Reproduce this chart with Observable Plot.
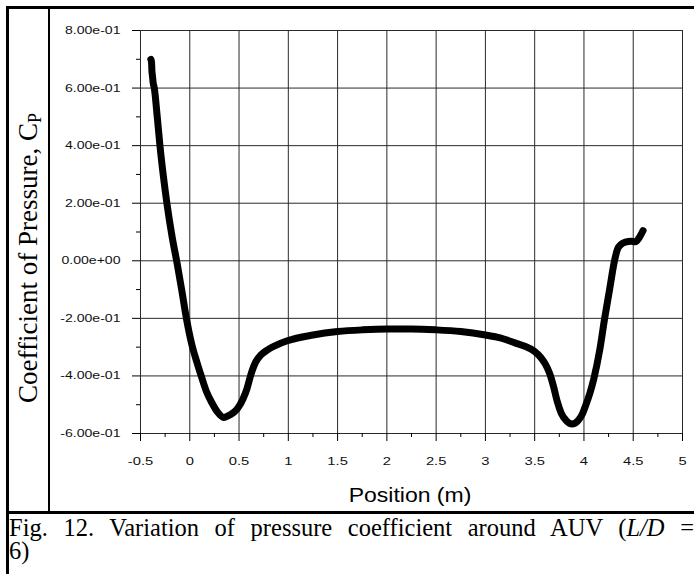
<!DOCTYPE html>
<html>
<head>
<meta charset="utf-8">
<script src="https://cdn.jsdelivr.net/npm/d3@7"></script>
<script src="https://cdn.jsdelivr.net/npm/@observablehq/plot@0.6"></script>
<style>
  html, body { margin: 0; padding: 0; background: #fff; }
  #fig { position: relative; width: 694px; height: 574px; overflow: hidden; background: #fff; }
  #chart { position: absolute; left: 0; top: 0; }
  .ln { position: absolute; background: #000; }
  #ytitle { position: absolute; left: 28px; top: 258px; transform: translate(-50%, -50%) rotate(-90deg);
    white-space: nowrap; font-family: "Liberation Serif", "Times New Roman", serif; font-size: 27px; color: #000; }
  #ytitle sub { font-size: 18px; vertical-align: baseline; position: relative; top: 4px; }
  #xtitle { position: absolute; left: 410px; top: 495px; transform: translate(-50%, -50%) scaleX(1.15);
    white-space: nowrap; font-family: "Liberation Sans", Arial, sans-serif; font-size: 20px; color: #000; }
  #caption { position: absolute; left: 9px; top: 516px; width: 685px; font-family: "Liberation Serif", "Times New Roman", serif;
    font-size: 24.5px; line-height: 23px; color: #000; text-align: justify; text-align-last: justify; }
</style>
</head>
<body>
<div id="fig">
  <div id="chart"></div>
  <div id="ytitle"></div>
  <div id="xtitle"></div>
  <div id="caption"></div>
  <div class="ln" style="left:6px;top:6px;width:688px;height:3px;"></div>
  <div class="ln" style="left:6px;top:6px;width:3px;height:568px;"></div>
  <div class="ln" style="left:48px;top:6px;width:2px;height:506px;"></div>
  <div class="ln" style="left:6px;top:511px;width:688px;height:3px;"></div>
</div>
<script>
// ---- data ----
const position = [-0.395, -0.388, -0.385, -0.378, -0.372, -0.36, -0.33, -0.304, -0.27, -0.23, -0.18, -0.128, -0.08, -0.037, 0.02, 0.07, 0.116, 0.17, 0.227, 0.28, 0.345, 0.41, 0.48, 0.54, 0.58, 0.616, 0.667, 0.72, 0.786, 0.88, 0.99, 1.25, 1.5, 1.75, 2.0, 2.25, 2.5, 2.75, 3.0, 3.15, 3.3, 3.4, 3.5, 3.56, 3.61, 3.65, 3.69, 3.73, 3.77, 3.82, 3.88, 3.94, 3.98, 4.02, 4.06, 4.1, 4.16, 4.21, 4.26, 4.31, 4.34, 4.38, 4.42, 4.48, 4.52, 4.56, 4.6];
const cp = [0.70, 0.69, 0.665, 0.64, 0.62, 0.60, 0.50, 0.405, 0.30, 0.195, 0.085, -0.01, -0.105, -0.195, -0.29, -0.35, -0.40, -0.455, -0.495, -0.525, -0.544, -0.535, -0.515, -0.48, -0.445, -0.40, -0.353, -0.328, -0.31, -0.293, -0.278, -0.258, -0.246, -0.24, -0.237, -0.237, -0.24, -0.246, -0.258, -0.268, -0.285, -0.297, -0.315, -0.335, -0.36, -0.39, -0.435, -0.49, -0.53, -0.555, -0.567, -0.555, -0.535, -0.50, -0.46, -0.41, -0.31, -0.20, -0.10, 0.0, 0.04, 0.058, 0.065, 0.068, 0.066, 0.08, 0.105];

const xTicks = [-0.5, 0, 0.5, 1, 1.5, 2, 2.5, 3, 3.5, 4, 4.5, 5];
const xTickLabels = ["-0.5", "0", "0.5", "1", "1.5", "2", "2.5", "3", "3.5", "4", "4.5", "5"];
const xMinorTicks = [-0.25, 0.25, 0.75, 1.25, 1.75, 2.25, 2.75, 3.25, 3.75, 4.25, 4.75];
const yTicks = [-0.6, -0.4, -0.2, 0, 0.2, 0.4, 0.6, 0.8];
const yTickLabels = ["-6.00e-01", "-4.00e-01", "-2.00e-01", "0.00e+00", "2.00e-01", "4.00e-01", "6.00e-01", "8.00e-01"];
const yMinorTicks = [-0.5, -0.3, -0.1, 0.1, 0.3, 0.5, 0.7];

const xTitle = "Position (m)";
const yTitle = "Coefficient of Pressure, C";
const yTitleSub = "P";
const captionStart = "Fig. 12. Variation of pressure coefficient around AUV (";
const captionItalic = "L/D";
const captionEnd = " =";
const captionLine2 = "6)";

// ---- chart ----
const data = position.map((x, i) => ({x, y: cp[i]}));

const chart = Plot.plot({
  width: 694,
  height: 512,
  marginLeft: 140,
  marginRight: 12,
  marginTop: 30,
  marginBottom: 79,
  x: {domain: [-0.5, 5]},
  y: {domain: [-0.6, 0.8]},
  style: {fontFamily: "'Liberation Sans', Arial, sans-serif", fontSize: "11px", color: "#000", background: "transparent", overflow: "visible"},
  marks: [
    Plot.gridX(xTicks, {stroke: "#2a2a2a", strokeOpacity: 1, strokeWidth: 1}),
    Plot.gridY(yTicks, {stroke: "#2a2a2a", strokeOpacity: 1, strokeWidth: 1}),
    Plot.axisX(xMinorTicks, {tickSize: 4, tickFormat: () => "", label: null}),
    Plot.axisX(xTicks, {tickSize: 8, tickPadding: 15, fontSize: 11.5, fill: "#111", tickFormat: d => xTickLabels[xTicks.indexOf(d)], label: null}),
    Plot.axisY(yMinorTicks, {tickSize: 4, tickFormat: () => "", label: null}),
    Plot.axisY(yTicks, {tickSize: 8, tickPadding: 12, fontSize: 11, fill: "#111", tickFormat: d => yTickLabels[yTicks.indexOf(d)], label: null}),
    Plot.line(data, {x: "x", y: "y", stroke: "#000", strokeWidth: 7, strokeLinejoin: "round", strokeLinecap: "round", curve: "monotone-x"})
  ]
});
document.getElementById("chart").appendChild(chart);

// widen tick labels like the (horizontally stretched) original
const tickTexts = new Set([...xTickLabels, ...yTickLabels]);
chart.querySelectorAll("text").forEach(t => {
  const s = (t.textContent || "").trim();
  if (!tickTexts.has(s)) return;
  let w = 0;
  try { w = t.getComputedTextLength(); } catch (e) { w = 0; }
  if (w > 0) {
    t.setAttribute("textLength", (w * 1.28).toFixed(1));
    t.setAttribute("lengthAdjust", "spacingAndGlyphs");
  }
});

const yt = document.getElementById("ytitle");
yt.textContent = yTitle;
const sub = document.createElement("sub");
sub.textContent = yTitleSub;
yt.appendChild(sub);

document.getElementById("xtitle").textContent = xTitle;

const cap = document.getElementById("caption");
cap.appendChild(document.createTextNode(captionStart));
const it = document.createElement("i");
it.textContent = captionItalic;
cap.appendChild(it);
cap.appendChild(document.createTextNode(captionEnd));
cap.appendChild(document.createElement("br"));
cap.appendChild(document.createTextNode(captionLine2));
</script>
</body>
</html>
